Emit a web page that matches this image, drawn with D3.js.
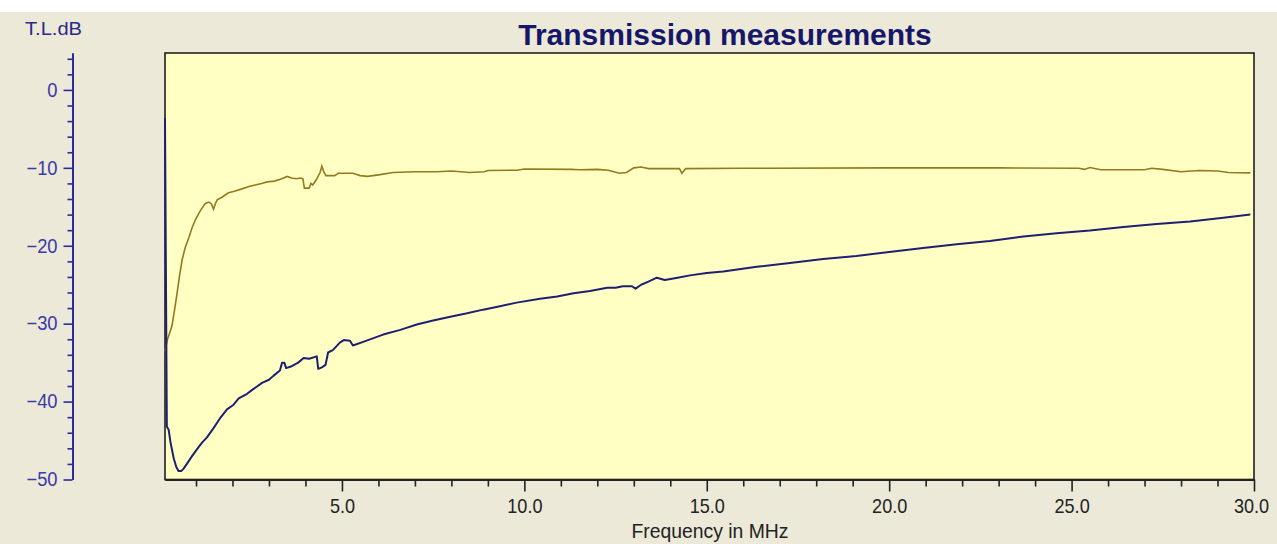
<!DOCTYPE html>
<html>
<head>
<meta charset="utf-8">
<script src="https://cdn.jsdelivr.net/npm/d3@7"></script>
<style>
  body { margin: 0; background: #fff; }
  svg { display: block; font-family: Arial, "Liberation Sans", sans-serif; }
</style>
</head>
<body>
<svg id="chart" width="1277" height="544"></svg>
<script>
// readings
const title = 'Transmission measurements'
const xLabel = 'Frequency in MHz'
const yLabel = 'T.L.dB'

const xMajor = [5, 10, 15, 20, 25, 30]
const xMinor = d3.range(1, 30).filter(d => d % 5 !== 0)
const yMajor = [0, -10, -20, -30, -40, -50]
const yMinor = d3.range(4, -50, -2).filter(d => d % 10 !== 0)

// gold trace
const goldFreq = [0.15, 0.22, 0.34, 0.42, 0.48, 0.55, 0.62, 0.70, 0.80, 0.90, 0.98, 1.08, 1.16, 1.25, 1.35, 1.42, 1.48, 1.53, 1.58, 1.70, 1.89, 2.05, 2.26, 2.45, 2.62, 2.80, 2.95, 3.15, 3.35, 3.50, 3.62, 3.75, 3.86, 3.93, 3.97, 4.10, 4.15, 4.20, 4.30, 4.40, 4.45, 4.50, 4.56, 4.80, 4.90, 5.30, 5.50, 5.70, 6.00, 6.40, 7.00, 7.60, 8.00, 8.50, 8.90, 9.00, 9.80, 10.0, 11.3, 11.5, 12.0, 12.3, 12.6, 12.8, 13.0, 13.2, 13.4, 14.25, 14.32, 14.42, 16.0, 20.0, 23.0, 25.2, 25.35, 25.5, 25.8, 27.0, 27.2, 27.5, 28.0, 28.5, 29.0, 29.3, 29.9]
const goldDb = [-33.5, -32.0, -30.3, -28.0, -26.1, -23.8, -21.8, -20.3, -19.0, -17.6, -16.7, -15.8, -15.2, -14.6, -14.4, -14.6, -15.3, -14.6, -14.1, -13.8, -13.2, -13.0, -12.7, -12.4, -12.2, -12.0, -11.8, -11.7, -11.4, -11.1, -11.3, -11.4, -11.3, -11.4, -12.6, -12.6, -12.0, -12.2, -11.5, -10.6, -9.8, -10.5, -11.0, -11.0, -10.7, -10.7, -11.0, -11.1, -10.9, -10.6, -10.5, -10.5, -10.4, -10.6, -10.5, -10.35, -10.3, -10.15, -10.2, -10.25, -10.2, -10.3, -10.7, -10.6, -10.0, -9.9, -10.1, -10.1, -10.7, -10.1, -10.05, -10.0, -10.0, -10.05, -10.2, -9.95, -10.25, -10.25, -10.05, -10.2, -10.5, -10.35, -10.4, -10.6, -10.65]

// blue trace
const blueFreq = [0.15, 0.2, 0.25, 0.30, 0.39, 0.46, 0.52, 0.60, 0.66, 0.75, 0.89, 1.03, 1.16, 1.30, 1.48, 1.65, 1.85, 2.03, 2.17, 2.40, 2.54, 2.81, 3.00, 3.12, 3.30, 3.36, 3.42, 3.47, 3.60, 3.80, 3.95, 4.10, 4.31, 4.35, 4.45, 4.55, 4.62, 4.75, 4.95, 5.05, 5.22, 5.30, 5.60, 6.13, 6.60, 7.05, 7.50, 7.97, 8.40, 8.87, 9.30, 9.79, 10.43, 10.9, 11.35, 11.8, 12.27, 12.5, 12.7, 12.95, 13.05, 13.2, 13.4, 13.63, 13.85, 14.2, 14.54, 15.0, 15.45, 16.37, 17.28, 18.19, 19.1, 20.0, 20.93, 21.85, 22.76, 23.68, 24.59, 25.5, 26.42, 27.33, 28.25, 29.16, 29.9]
const blueDb = [-3.6, -43.2, -43.6, -45.2, -47.3, -48.4, -48.9, -48.9, -48.6, -48.0, -47.0, -46.1, -45.3, -44.6, -43.4, -42.2, -41.0, -40.4, -39.6, -39.0, -38.5, -37.6, -37.2, -36.7, -36.0, -35.0, -35.0, -35.7, -35.5, -35.0, -34.4, -34.5, -34.2, -35.8, -35.6, -35.3, -33.7, -33.4, -32.4, -32.1, -32.2, -32.8, -32.3, -31.4, -30.8, -30.1, -29.6, -29.1, -28.7, -28.2, -27.8, -27.3, -26.8, -26.5, -26.1, -25.8, -25.4, -25.4, -25.2, -25.2, -25.5, -25.0, -24.6, -24.1, -24.4, -24.1, -23.8, -23.5, -23.3, -22.7, -22.2, -21.7, -21.3, -20.8, -20.3, -19.8, -19.4, -18.8, -18.4, -18.05, -17.6, -17.2, -16.9, -16.4, -16.0]

const W = 1277, H = 544
const plot = { left: 165, right: 1254, top: 53, bottom: 479.5 }
const yAxisX = 72.5
const FONT = 'Arial, "Liberation Sans", sans-serif'

const svg = d3.select('#chart')

// squeeze text horizontally, the old screen font is narrow and tall
function squeeze(sel, factor) {
  sel.each(function () {
    var w = this.getComputedTextLength()
    d3.select(this).attr('textLength', w * factor).attr('lengthAdjust', 'spacingAndGlyphs')
  })
}

// window background
svg.append('rect').attr('width', W).attr('height', H).attr('fill', '#fff')
svg.append('rect').attr('y', 12).attr('width', W).attr('height', H - 12).attr('fill', '#ECE9D8')

var x = d3.scaleLinear().domain([0.15, 30]).range([plot.left, plot.right])
var y = d3.scaleLinear().domain([-50, 4.74]).range([plot.bottom, plot.top])

// plot area
svg.append('rect')
  .attr('x', plot.left).attr('y', plot.top)
  .attr('width', plot.right - plot.left).attr('height', plot.bottom - plot.top)
  .attr('fill', '#FFFFC4')
  .attr('stroke', '#1e1e1e').attr('stroke-width', 1.6)

// title
svg.append('text')
  .attr('x', 725).attr('y', 45)
  .attr('text-anchor', 'middle')
  .attr('font-size', 30).attr('font-weight', 'bold')
  .attr('fill', '#17176a')
  .text(title)

// x axis
const gx = svg.append('g').attr('transform', `translate(0,${plot.bottom})`)
gx.call(d3.axisBottom(x).tickValues(xMinor).tickSize(7).tickSizeOuter(0).tickFormat(''))
gx.append('g').call(d3.axisBottom(x).tickValues(xMajor).tickSize(12).tickSizeOuter(0)
  .tickFormat(d3.format('.1f')))
gx.selectAll('path.domain').attr('stroke', '#222').attr('stroke-width', 2)
gx.selectAll('line').attr('stroke', '#222').attr('stroke-width', 1.6)
gx.selectAll('text')
  .attr('font-size', 21).attr('fill', '#222').attr('dy', null).attr('y', 33)
  .style('font-family', FONT)
  .call(squeeze, 0.86)
// keep the last label inside the window
gx.selectAll('.tick text').filter(d => d === 30).attr('x', -3)

svg.append('text')
  .attr('x', 710).attr('y', 538)
  .attr('text-anchor', 'middle')
  .attr('font-size', 21).attr('fill', '#222')
  .attr('textLength', 157).attr('lengthAdjust', 'spacingAndGlyphs')
  .text(xLabel)

// y axis
const axisBlue = '#2b2b9a'
const gy = svg.append('g').attr('transform', `translate(${yAxisX},0)`)
gy.call(d3.axisLeft(y).tickValues(yMinor).tickSize(5).tickSizeOuter(0).tickFormat(''))
gy.append('g').call(d3.axisLeft(y).tickValues(yMajor).tickSize(9).tickSizeOuter(0))
gy.selectAll('path.domain').attr('stroke', axisBlue).attr('stroke-width', 2)
gy.selectAll('line').attr('stroke', axisBlue).attr('stroke-width', 1.6)
gy.selectAll('text')
  .attr('font-size', 19.5).attr('fill', '#3a3aa8').attr('x', -15)
  .style('font-family', FONT)
  .call(squeeze, 0.94)

svg.append('text')
  .attr('x', 25).attr('y', 35)
  .attr('font-size', 18).attr('fill', '#2a2a8c')
  .attr('textLength', 57).attr('lengthAdjust', 'spacingAndGlyphs')
  .text(yLabel)

// traces
var line = d3.line().x(d => x(d[0])).y(d => y(d[1]))
const gold = d3.zip(goldFreq, goldDb)
const blue = d3.zip(blueFreq, blueDb)

svg.append('path').datum(gold)
  .attr('d', line).attr('fill', 'none')
  .attr('stroke', '#947a1e').attr('stroke-width', 1.6)

svg.append('path').datum(blue)
  .attr('d', line).attr('fill', 'none')
  .attr('stroke', '#1f1f72').attr('stroke-width', 2)
  .attr('stroke-linejoin', 'round')
</script>
</body>
</html>
